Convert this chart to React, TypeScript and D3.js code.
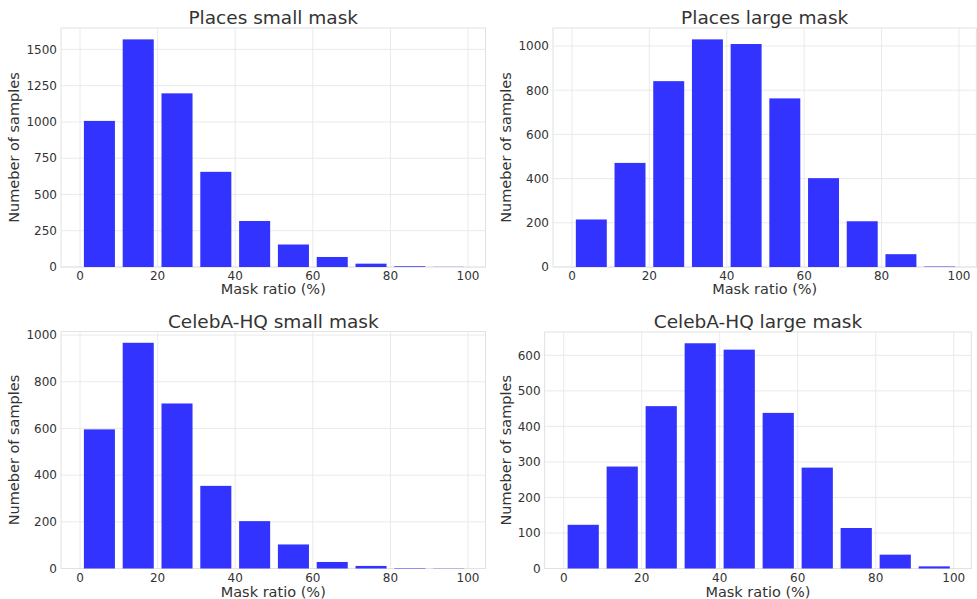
import React from "react";
import * as d3 from "d3";

const binEdges = [0, 10, 20, 30, 40, 50, 60, 70, 80, 90, 100];
const xTicks = [0, 20, 40, 60, 80, 100];

const placesSmall = [1007, 1569, 1197, 656, 317, 155, 69, 23, 5, 1];
const placesLarge = [215, 471, 841, 1030, 1009, 763, 402, 207, 58, 2];
const celebaSmall = [596, 967, 707, 354, 203, 103, 28, 11, 2, 1];
const celebaLarge = [123, 287, 457, 634, 616, 438, 284, 114, 39, 6];

const ticksPlacesSmall = [0, 250, 500, 750, 1000, 1250, 1500];
const ticksPlacesLarge = [0, 200, 400, 600, 800, 1000];
const ticksCelebaSmall = [0, 200, 400, 600, 800, 1000];
const ticksCelebaLarge = [0, 100, 200, 300, 400, 500, 600];

const titles = ["Places small mask", "Places large mask", "CelebA-HQ small mask", "CelebA-HQ large mask"];
const xLabel = "Mask ratio (%)";
const yLabel = "Numeber of samples";

const FONT = "'DejaVu Sans', sans-serif";
const BAR = "#3333ff";
const GRID = "#e8e8e8";
const TXT = "#333333";

type PanelProps = {
  title: string;
  values: number[];
  yTicks: number[];
  box: { left: number; right: number; top: number; bottom: number };
  yLabelX: number;
  titleY: number;
  xLabelY: number;
};

function Panel({ title, values, yTicks, box, yLabelX, titleY, xLabelY }: PanelProps) {
  const x = d3.scaleLinear().domain([-4.9, 104.5]).range([box.left, box.right]);
  const yMax = (d3.max(values) as number) * 1.05;
  const y = d3.scaleLinear().domain([0, yMax]).range([box.bottom, box.top]);
  const rwidth = 0.8;
  const cx = (box.left + box.right) / 2;
  const cy = (box.top + box.bottom) / 2;
  return (
    <g fontFamily={FONT}>
      <rect x={box.left} y={box.top} width={box.right - box.left} height={box.bottom - box.top} fill="#fff" />
      {xTicks.map((t) => (
        <line key={"gx" + t} x1={x(t)} x2={x(t)} y1={box.top} y2={box.bottom} stroke={GRID} strokeWidth={0.9} />
      ))}
      {yTicks.map((t) => (
        <line key={"gy" + t} x1={box.left} x2={box.right} y1={y(t)} y2={y(t)} stroke={GRID} strokeWidth={0.9} />
      ))}
      <rect x={box.left} y={box.top} width={box.right - box.left} height={box.bottom - box.top} fill="none" stroke="#e2e2e2" strokeWidth={1} />
      {values.map((v, i) => {
        const a = binEdges[i];
        const b = binEdges[i + 1];
        const w = (b - a) * rwidth;
        const s = a + ((b - a) - w) / 2;
        return (
          <rect key={"b" + i} x={x(s)} y={y(v)} width={x(s + w) - x(s)} height={Math.max(0, y(0) - y(v))} fill={BAR} />
        );
      })}
      {xTicks.map((t) => (
        <text key={"tx" + t} x={x(t)} y={box.bottom + 13} textAnchor="middle" fontSize={12} fill={TXT}>
          {t}
        </text>
      ))}
      {yTicks.map((t) => (
        <text key={"ty" + t} x={box.left - 4} y={y(t) + 4.3} textAnchor="end" fontSize={12} fill={TXT}>
          {t}
        </text>
      ))}
      <text x={cx} y={titleY} textAnchor="middle" fontSize={18.5} fill={TXT}>
        {title}
      </text>
      <text x={cx} y={xLabelY} textAnchor="middle" fontSize={14.5} fill={TXT}>
        {xLabel}
      </text>
      <text transform={`translate(${yLabelX},${cy}) rotate(-90)`} textAnchor="middle" fontSize={14.5} fill={TXT}>
        {yLabel}
      </text>
    </g>
  );
}

export default function App() {
  return (
    <svg width={977} height={599} style={{ position: "fixed", left: 0, top: 0, background: "#fff" }}>
      <rect width={977} height={599} fill="#fff" />
      <Panel
        title={titles[0]}
        values={placesSmall}
        yTicks={ticksPlacesSmall}
        box={{ left: 61, right: 485.5, top: 28, bottom: 267 }}
        yLabelX={19}
        titleY={24}
        xLabelY={294}
      />
      <Panel
        title={titles[1]}
        values={placesLarge}
        yTicks={ticksPlacesLarge}
        box={{ left: 553, right: 976.4, top: 28, bottom: 267 }}
        yLabelX={511}
        titleY={24}
        xLabelY={294}
      />
      <Panel
        title={titles[2]}
        values={celebaSmall}
        yTicks={ticksCelebaSmall}
        box={{ left: 61, right: 485.5, top: 331.5, bottom: 568.5 }}
        yLabelX={19}
        titleY={328}
        xLabelY={597}
      />
      <Panel
        title={titles[3]}
        values={celebaLarge}
        yTicks={ticksCelebaLarge}
        box={{ left: 544.6, right: 971.3, top: 332, bottom: 568.5 }}
        yLabelX={511}
        titleY={328}
        xLabelY={597}
      />
    </svg>
  );
}
